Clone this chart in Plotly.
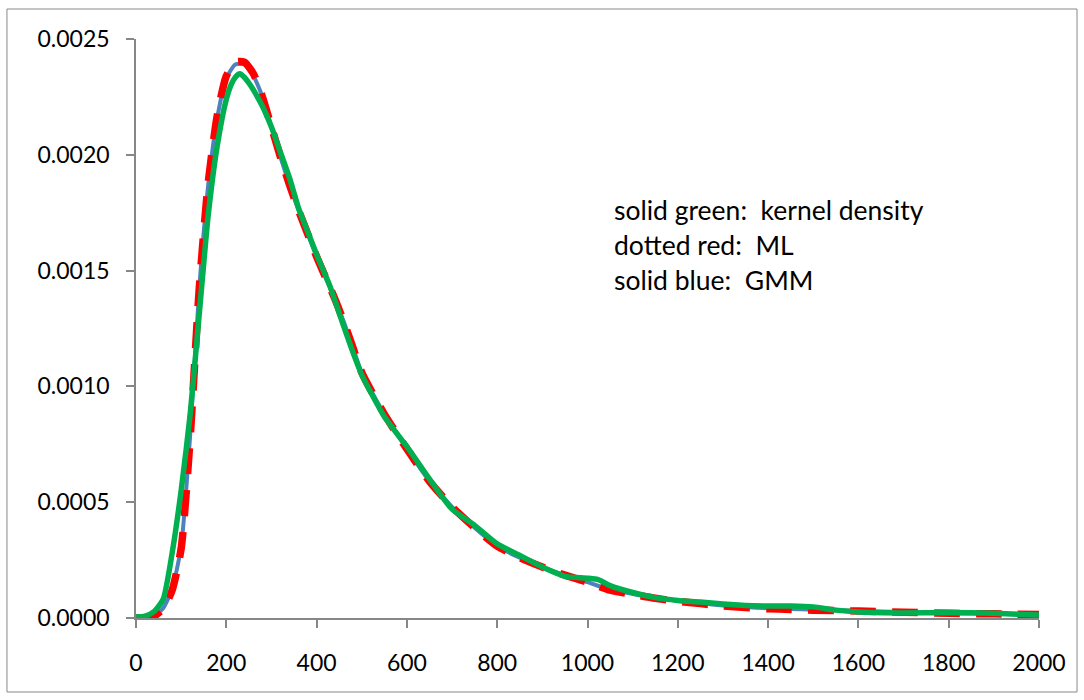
import plotly.graph_objects as go

# ---- data ----
x_kde = [0, 20, 40, 60, 80, 100, 120, 140, 160, 180, 200, 210, 220, 230, 240, 250, 260, 280, 300,
         320, 340, 360, 380, 400, 430, 460, 480, 500, 550, 600, 650, 700, 750, 800, 850, 900, 950,
         1000, 1025, 1050, 1100, 1150, 1200, 1250, 1300, 1350, 1400, 1450, 1500, 1550, 1600, 1700,
         1800, 1900, 2000]
y_kde = [0.000004, 0.000008, 0.000028, 0.00008, 0.00028, 0.00055, 0.00088, 0.00131, 0.00174,
         0.00204, 0.00224, 0.00230, 0.002335, 0.00235, 0.002335, 0.00231, 0.00228, 0.00221,
         0.00212, 0.00201, 0.00190, 0.00177, 0.00167, 0.00157, 0.00143, 0.00126, 0.00115,
         0.00105, 0.00087, 0.00074, 0.00060, 0.00047, 0.00040, 0.00032, 0.00027, 0.00022,
         0.00018, 0.000172, 0.000165, 0.00014, 0.00011, 0.000088, 0.000076, 0.000069, 0.00006,
         0.000054, 0.000052, 0.000052, 0.000048, 0.000034, 0.000026, 0.000022, 0.000024,
         0.00002, 0.000013]

x_fit = [0, 20, 40, 60, 80, 100, 120, 140, 160, 180, 200, 220, 240, 260, 280, 300, 320, 340,
         360, 380, 400, 420, 440, 460, 480, 500, 550, 600, 650, 700, 750, 800, 850, 900, 950,
         1000, 1050, 1100, 1150, 1200, 1250, 1300, 1350, 1400, 1450, 1500, 1600, 1700, 1800,
         1900, 2000]
y_ml = [0.0, 0.000001, 0.000008, 0.00004, 0.00012, 0.00030, 0.00078, 0.00142, 0.00188, 0.00217,
        0.00234, 0.00240, 0.00240, 0.00235, 0.00225, 0.00212, 0.00199, 0.00187, 0.00176, 0.00166,
        0.00156, 0.00147, 0.00138, 0.00128, 0.00117, 0.00106, 0.00088, 0.00073, 0.00059, 0.00048,
        0.00039, 0.00031, 0.00026, 0.00022, 0.000185, 0.000155, 0.00012, 0.000102, 0.000085,
        0.000072, 0.000062, 0.000052, 0.000045, 0.00004, 0.000037, 0.000034, 0.00003, 0.000025,
        0.00002, 0.000018, 0.000015]
y_gmm = [0.0, 0.000001, 0.000009, 0.000042, 0.000125, 0.00031, 0.00079, 0.00142, 0.00187, 0.00216,
         0.00233, 0.00239, 0.00239, 0.00234, 0.00225, 0.00212, 0.00199, 0.00187, 0.00176, 0.00166,
         0.00156, 0.00147, 0.00138, 0.00128, 0.00117, 0.00106, 0.00088, 0.00073, 0.00059, 0.00048,
         0.00039, 0.00031, 0.00026, 0.00022, 0.000185, 0.000155, 0.000122, 0.000104, 0.000087,
         0.000074, 0.000064, 0.000054, 0.000047, 0.000042, 0.000039, 0.000036, 0.000031, 0.000026,
         0.000021, 0.000018, 0.000015]

notes = ["solid green:  kernel density", "dotted red:  ML", "solid blue:  GMM"]
note_y = [0.001762, 0.001611, 0.001459]
note_x = 1054

x_ticks = list(range(0, 2001, 200))
y_ticks = [0.0, 0.0005, 0.0010, 0.0015, 0.0020, 0.0025]

FONT = "Lato"
GRAY = "#878787"

fig = go.Figure()
fig.add_trace(go.Scatter(x=x_fit, y=y_gmm, mode="lines", name="GMM",
                         line=dict(color="#4F81BD", width=4, shape="spline", smoothing=0.6)))
fig.add_trace(go.Scatter(x=x_fit, y=y_ml, mode="lines", name="ML",
                         line=dict(color="#FF0000", width=7.5, dash="26px,16px",
                                   shape="spline", smoothing=0.6)))
fig.add_trace(go.Scatter(x=x_kde, y=y_kde, mode="lines", name="kernel density",
                         line=dict(color="#00B050", width=5.5, shape="spline", smoothing=0.6)))

for t, yy in zip(notes, note_y):
    fig.add_annotation(x=note_x, y=yy, text=t, showarrow=False, xanchor="left", yanchor="middle",
                       font=dict(family=FONT, size=26.5, color="#000000"))

# outer chart border
fig.add_shape(type="rect", xref="paper", yref="paper", x0=-0.1429, x1=1.0421, y0=-0.1278, y1=1.0518,
              line=dict(color="#898989", width=1), fillcolor="rgba(0,0,0,0)", layer="below")

fig.update_layout(
    width=1084, height=700,
    margin=dict(l=136, r=45, t=39, b=82),
    paper_bgcolor="white", plot_bgcolor="white",
    showlegend=False,
    font=dict(family=FONT, size=23, color="#000000"),
)
fig.update_xaxes(range=[0, 2000], tickvals=x_ticks, ticktext=[str(v) for v in x_ticks],
                 showgrid=False, zeroline=False, showline=True, linecolor=GRAY, linewidth=1.5,
                 ticks="outside", ticklen=8, tickcolor=GRAY, tickwidth=1.5,
                 ticklabelstandoff=16, tickfont=dict(family=FONT, size=23))
fig.update_yaxes(range=[0, 0.0025], tickvals=y_ticks, ticktext=[f"{v:.4f}" for v in y_ticks],
                 showgrid=False, zeroline=False, showline=True, linecolor=GRAY, linewidth=1.5,
                 ticks="outside", ticklen=8, tickcolor=GRAY, tickwidth=1.5,
                 ticklabelstandoff=12, tickfont=dict(family=FONT, size=23))

fig.write_html("out.html", config={"displayModeBar": False},
               post_script="document.body.style.margin='0';document.body.style.overflow='hidden';")
